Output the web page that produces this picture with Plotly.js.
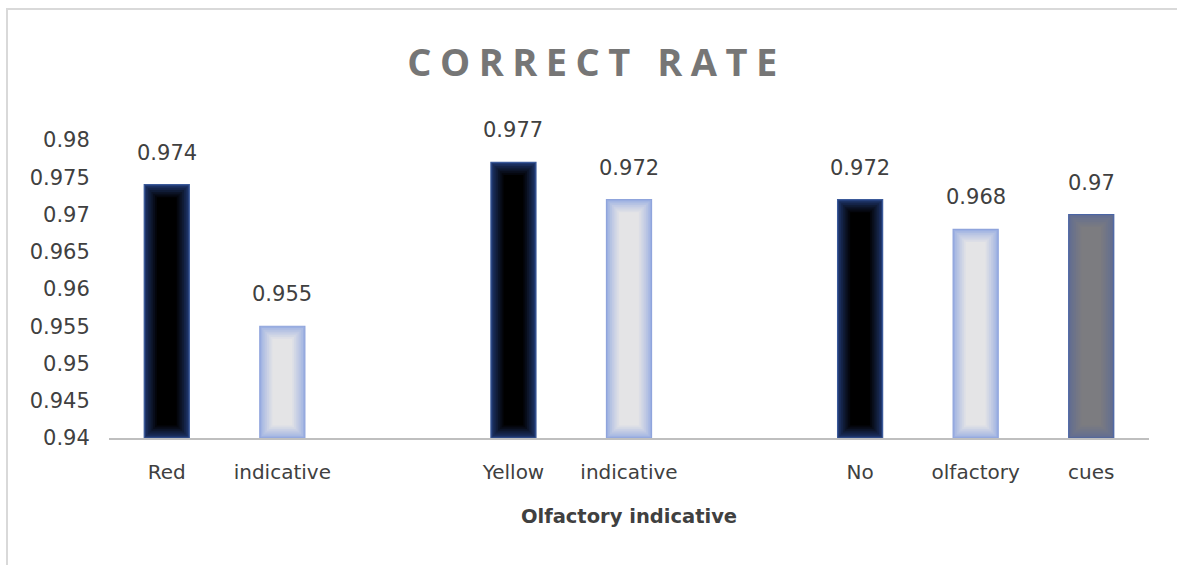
<!DOCTYPE html>
<html>
<head>
<meta charset="utf-8">
<script src="https://cdn.plot.ly/plotly-3.0.1.min.js"></script>
<style>
  html, body { margin: 0; padding: 0; background: #ffffff; }
  #wrap { position: relative; width: 1177px; height: 565px; overflow: hidden; }
  #chart { position: absolute; left: 0; top: 0; width: 1177px; height: 565px; }
  #frame { position: absolute; left: 6px; top: 8px; width: 1300px; height: 700px;
           border-left: 2px solid #d9d9d9; border-top: 2px solid #d9d9d9; pointer-events: none; }
</style>
</head>
<body>
<div id="wrap">
  <div id="chart"></div>
  <div id="frame"></div>
</div>
<script>
// ---- data ----
const slots      = [0, 1, 3, 4, 6, 7, 8];
const labels     = ["Red", "indicative", "Yellow", "indicative", "No", "olfactory", "cues"];
const values     = [0.974, 0.955, 0.977, 0.972, 0.972, 0.968, 0.970];
const valueText  = ["0.974", "0.955", "0.977", "0.972", "0.972", "0.968", "0.97"];
const barStyle   = ["dark", "light", "dark", "light", "dark", "light", "gray"];
const yTicks     = [0.94, 0.945, 0.95, 0.955, 0.96, 0.965, 0.97, 0.975, 0.98];
const yTickText  = ["0.94", "0.945", "0.95", "0.955", "0.96", "0.965", "0.97", "0.975", "0.98"];

// ---- styling ----
const palette = {
  dark:  { outline: "#3b5a9a", edge: [32, 56, 112],   center: [0, 0, 0] },
  light: { outline: "#8fa4dc", edge: [156, 176, 226], center: [228, 228, 230] },
  gray:  { outline: "#4a64a4", edge: [96, 108, 146], center: [124, 124, 128] }
};
const labelFont = "DejaVu Sans, sans-serif";
const yMin = 0.94, yMax = 0.98;
const barW = 0.39;
const nLayers = 8;
const pxPerSlot = 115.6;
const pxPerUnit = 298 / (yMax - yMin);
const insetPx = 1.8;

function lerp(a, b, t) {
  return "rgb(" + a.map((v, i) => Math.round(v + (b[i] - v) * t)).join(",") + ")";
}

const traces = [];
for (let k = 0; k < nLayers; k++) {
  const t = Math.pow(k / (nLayers - 1), 0.8);
  const dy = (k * insetPx) / pxPerUnit;
  const w = barW - (2 * k * insetPx) / pxPerSlot;
  traces.push({
    type: "bar",
    x: slots,
    base: values.map(() => yMin + dy),
    y: values.map(v => (v - yMin) - 2 * dy),
    width: slots.map(() => w),
    marker: {
      color: barStyle.map(s => lerp(palette[s].edge, palette[s].center, t)),
      line: k === 0 ? { color: barStyle.map(s => palette[s].outline), width: 1.2 } : { width: 0 }
    },
    hoverinfo: "skip",
    showlegend: false
  });
}

const annotations = slots.map((s, i) => ({
  x: s, y: values[i], xref: "x", yref: "y",
  text: valueText[i], showarrow: false,
  yanchor: "middle", yshift: 32,
  font: { family: labelFont, size: 21, color: "#404040" }
}));

const layout = {
  width: 1177, height: 565,
  margin: { l: 109, r: 28, t: 140, b: 127, pad: 0 },
  paper_bgcolor: "rgba(0,0,0,0)",
  plot_bgcolor: "rgba(0,0,0,0)",
  barmode: "overlay",
  title: {
    text: '<span style="letter-spacing:8.5px">CORRECT RATE</span>',
    font: { family: "Open Sans, sans-serif", size: 38, color: "#767676", weight: "bold" },
    x: 0.5 + 8 / 1177, xref: "container", xanchor: "center",
    y: 1 - 63 / 565, yref: "container", yanchor: "middle"
  },
  xaxis: {
    range: [-0.5, 8.5],
    tickmode: "array", tickvals: slots, ticktext: labels,
    showline: true, linecolor: "#bfbfbf", linewidth: 2,
    showgrid: false, zeroline: false,
    ticks: "outside", ticklen: 15, tickcolor: "rgba(0,0,0,0)",
    tickfont: { family: labelFont, size: 20, color: "#404040" },
    title: {
      text: "Olfactory indicative", standoff: 26,
      font: { family: labelFont, size: 19.5, color: "#404040", weight: "bold" }
    },
    fixedrange: true
  },
  yaxis: {
    range: [yMin, yMax],
    tickmode: "array", tickvals: yTicks, ticktext: yTickText,
    showline: false, showgrid: false, zeroline: false,
    ticks: "outside", ticklen: 14, tickcolor: "rgba(0,0,0,0)",
    tickfont: { family: labelFont, size: 21, color: "#404040" },
    fixedrange: true
  },
  annotations: annotations,
  showlegend: false
};

Plotly.newPlot("chart", traces, layout, { displayModeBar: false, staticPlot: true });
</script>
</body>
</html>
